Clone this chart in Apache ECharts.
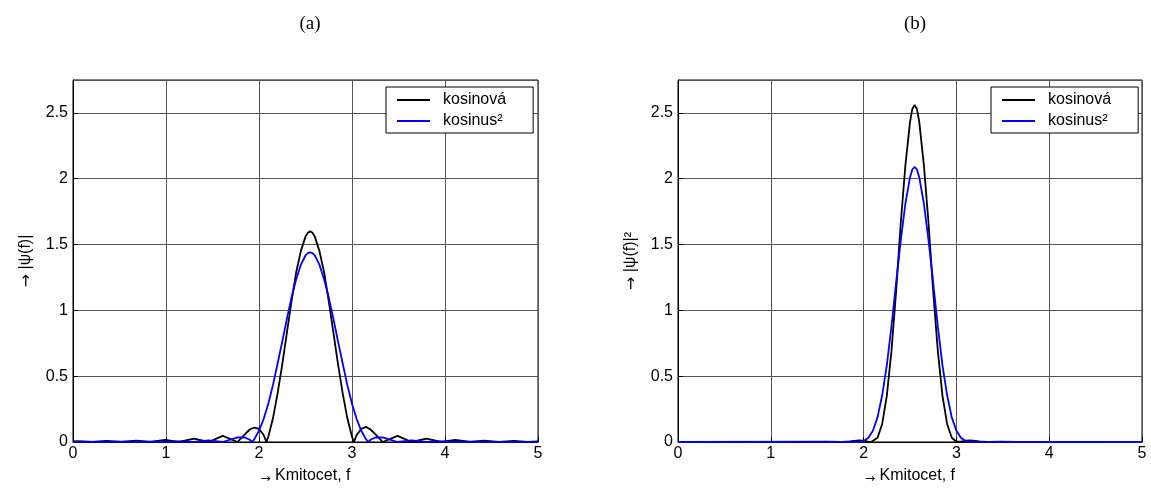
<!DOCTYPE html>
<html>
<head>
<meta charset="utf-8">
<script src="https://cdn.jsdelivr.net/npm/echarts@6/dist/echarts.min.js"></script>
<style>
  html, body { margin: 0; padding: 0; background: #fff; }
  #chart { width: 1151px; height: 490px; }
</style>
</head>
<body>
<div id="chart"></div>
<script>
// [f, value]
const kosA = [
  [0, 0.004], [0.05, 0.006], [0.21, 0], [0.36, 0.008], [0.52, 0], [0.68, 0.011], [0.83, 0],
  [0.99, 0.016], [1.14, 0], [1.30, 0.025], [1.46, 0], [1.61, 0.046], [1.77, 0],
  [1.85, 0.06], [1.90, 0.095], [1.95, 0.11], [2.00, 0.10], [2.05, 0.053], [2.08, 0],
  [2.10, 0.04], [2.15, 0.18], [2.20, 0.37], [2.25, 0.59], [2.30, 0.83], [2.35, 1.07],
  [2.40, 1.29], [2.45, 1.45], [2.50, 1.56], [2.525, 1.59], [2.55, 1.60], [2.575, 1.59],
  [2.60, 1.56], [2.65, 1.45],
  [2.70, 1.29], [2.75, 1.07], [2.80, 0.83], [2.85, 0.59], [2.90, 0.37], [2.95, 0.18],
  [3.00, 0.04], [3.02, 0], [3.05, 0.053], [3.10, 0.10], [3.15, 0.115], [3.20, 0.095],
  [3.25, 0.06], [3.33, 0], [3.49, 0.046], [3.64, 0], [3.80, 0.026], [3.96, 0],
  [4.11, 0.016], [4.27, 0], [4.42, 0.011], [4.58, 0], [4.74, 0.008], [4.89, 0], [5, 0.005]
];
const kos2A = [
  [0, 0.001], [0.5, 0.002], [0.83, 0.003], [0.99, 0], [1.14, 0.005], [1.30, 0],
  [1.46, 0.012], [1.61, 0], [1.70, 0.020], [1.77, 0.035], [1.85, 0.034], [1.90, 0.017],
  [1.925, 0], [1.95, 0.022], [2.00, 0.085], [2.05, 0.175], [2.10, 0.291], [2.15, 0.432],
  [2.20, 0.596], [2.25, 0.763], [2.30, 0.936], [2.35, 1.099], [2.40, 1.237], [2.45, 1.347],
  [2.50, 1.417], [2.525, 1.435], [2.55, 1.44], [2.575, 1.435], [2.60, 1.417], [2.65, 1.347],
  [2.70, 1.237], [2.75, 1.099],
  [2.80, 0.936], [2.85, 0.763], [2.90, 0.596], [2.95, 0.432], [3.00, 0.291], [3.05, 0.175],
  [3.10, 0.085], [3.15, 0.022], [3.175, 0], [3.20, 0.017], [3.25, 0.034], [3.33, 0.035],
  [3.40, 0.020], [3.49, 0], [3.64, 0.012], [3.80, 0], [3.96, 0.005], [4.11, 0],
  [4.27, 0.003], [4.5, 0.001], [5, 0.001]
];
const kosB = [
  [0, 0], [1.61, 0.002], [1.77, 0], [1.85, 0.004], [1.90, 0.009], [1.95, 0.013],
  [2.00, 0.010], [2.05, 0.003], [2.08, 0], [2.10, 0.002], [2.15, 0.032], [2.20, 0.137],
  [2.25, 0.35], [2.30, 0.69], [2.35, 1.14], [2.40, 1.66], [2.45, 2.10], [2.50, 2.43],
  [2.525, 2.53], [2.55, 2.56], [2.575, 2.53],
  [2.60, 2.43], [2.65, 2.10], [2.70, 1.66], [2.75, 1.14], [2.80, 0.69],
  [2.85, 0.35], [2.90, 0.137], [2.95, 0.032], [3.00, 0.002], [3.02, 0], [3.05, 0.003],
  [3.10, 0.010], [3.15, 0.013], [3.20, 0.009], [3.25, 0.004], [3.33, 0], [3.49, 0.002],
  [3.64, 0], [5, 0]
];
const kos2B = [
  [0, 0], [1.70, 0.0004], [1.77, 0.0012], [1.85, 0.0012], [1.925, 0], [1.95, 0.0005],
  [2.00, 0.0072], [2.05, 0.031], [2.10, 0.085], [2.15, 0.187], [2.20, 0.355], [2.25, 0.582],
  [2.30, 0.876], [2.35, 1.21], [2.40, 1.53], [2.45, 1.81], [2.50, 2.01], [2.525, 2.07],
  [2.55, 2.09], [2.575, 2.07],
  [2.60, 2.01], [2.65, 1.81], [2.70, 1.53], [2.75, 1.21], [2.80, 0.876], [2.85, 0.582],
  [2.90, 0.355], [2.95, 0.187], [3.00, 0.085], [3.05, 0.031], [3.10, 0.0072], [3.15, 0.0005],
  [3.175, 0], [3.25, 0.0012], [3.33, 0.0012], [3.40, 0.0004], [5, 0]
];
const seriesNames = ['kosinová', 'kosinus²'];
const titles = ['(a)', '(b)'];

const chart = echarts.init(document.getElementById('chart'), null, { renderer: 'canvas' });

const font = 'Liberation Sans, Arial, sans-serif';
const grids = [
  { left: 73, top: 80, width: 465, height: 367 },
  { left: 678, top: 80, width: 464, height: 367 }
];

function xAx(i) {
  return {
    type: 'value', gridIndex: i, min: 0, max: 5, interval: 1,
    name: '{a|→} Kmitocet, f', nameLocation: 'middle', nameGap: 24,
    nameTextStyle: { color: '#000', fontFamily: font, fontSize: 16, rich: { a: { fontFamily: 'DejaVu Sans', fontSize: 12, padding: [7, 0, 0, 0] } } },
    axisLine: { lineStyle: { color: '#000', width: 1 } },
    axisTick: { inside: true, length: 5, lineStyle: { color: '#000' } },
    axisLabel: { color: '#000', fontFamily: font, fontSize: 16, margin: 4 },
    splitLine: { show: true, lineStyle: { color: '#555', width: 1 } }
  };
}
function yAx(i, label) {
  return {
    type: 'value', gridIndex: i, min: 0, max: 2.75, interval: 0.5,
    name: label, nameLocation: 'middle', nameGap: 38,
    nameTextStyle: { color: '#000', fontFamily: font, fontSize: 16, rich: { a: { fontFamily: 'DejaVu Sans', fontSize: 16, padding: [3, 0, 0, 0] } } },
    axisLine: { show: true, lineStyle: { color: '#000', width: 1 } },
    axisTick: { show: true, inside: true, length: 5, lineStyle: { color: '#000' } },
    axisLabel: { color: '#000', fontFamily: font, fontSize: 16, margin: 5, showMaxLabel: false },
    splitLine: { show: true, lineStyle: { color: '#555', width: 1 } }
  };
}
function legendAt(left) {
  return {
    data: seriesNames, orient: 'vertical', left: left, top: 87,
    padding: [5, 27, 4, 11], itemGap: 5,
    itemWidth: 33, itemHeight: 2, icon: 'rect',
    borderColor: '#000', borderWidth: 1, backgroundColor: '#fff',
    textStyle: { color: '#000', fontFamily: font, fontSize: 16, padding: [0, 0, 0, 8] },
    selectedMode: false
  };
}
function line(name, data, i, color) {
  return {
    name: name, type: 'line', data: data, xAxisIndex: i, yAxisIndex: i,
    symbol: 'none', lineStyle: { color: color, width: 1.8 }, itemStyle: { color: color }
  };
}

var option = {
  animation: false,
  backgroundColor: '#fff',
  title: [
    { text: titles[0], left: 305, top: 10, textAlign: 'center', textStyle: { fontFamily: 'Liberation Serif, Times New Roman, serif', fontSize: 19, fontWeight: 'normal', color: '#000' } },
    { text: titles[1], left: 910, top: 10, textAlign: 'center', textStyle: { fontFamily: 'Liberation Serif, Times New Roman, serif', fontSize: 19, fontWeight: 'normal', color: '#000' } }
  ],
  grid: grids.map(g => Object.assign({ show: true, borderColor: '#000', borderWidth: 1, backgroundColor: 'transparent' }, g)),
  xAxis: [xAx(0), xAx(1)],
  yAxis: [yAx(0, '{a|→} |ψ(f)|'), yAx(1, '{a|→} |ψ(f)|²')],
  legend: [legendAt(386), legendAt(991)],
  series: [
    line(seriesNames[0], kosA, 0, '#000'),
    line(seriesNames[1], kos2A, 0, '#0000ff'),
    line(seriesNames[0], kosB, 1, '#000'),
    line(seriesNames[1], kos2B, 1, '#0000ff')
  ]
};
chart.setOption(option);
</script>
</body>
</html>
